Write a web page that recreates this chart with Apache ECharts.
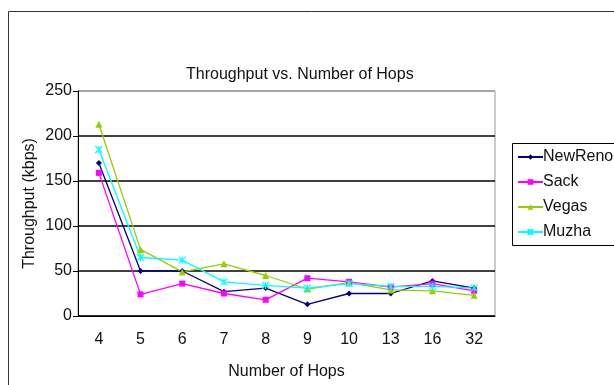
<!DOCTYPE html>
<html>
<head>
<meta charset="utf-8">
<script src="https://cdn.jsdelivr.net/npm/echarts@6/dist/echarts.min.js"></script>
<style>
html,body{margin:0;padding:0;background:#fff;}
#chart{width:614px;height:385px;}
</style>
</head>
<body>
<div id="chart"></div>
<script>
const titleText = 'Throughput vs. Number of Hops';
const xAxisName = 'Number of Hops';
const yAxisName = 'Throughput (kbps)';
const categories = ['4','5','6','7','8','9','10','13','16','32'];
const yTicks = [0, 50, 100, 150, 200, 250];
const seriesNames = ['NewReno','Sack','Vegas','Muzha'];
const newReno = [170, 50, 50, 27, 31, 13, 25, 25, 39, 31];
const sack    = [159, 24, 36, 25, 18, 42, 38, 32, 36, 28];
const vegas   = [213, 74, 49, 58, 45, 30, 37, 29, 28, 23];
const muzha   = [185, 65, 62, 38, 34, 31, 36, 33, 33, 31];

const FONT = '"Liberation Sans", Arial, sans-serif';
const chart = echarts.init(document.getElementById('chart'), null, {renderer:'canvas'});

const colors = ['#000080','#FF00FF','#99CC00','#00FFFF'];
const symbols = ['diamond','rect','triangle','path://M0,0 L10,10 M10,0 L0,10 M5,0 L5,10'];
const sizes = [6,6,7,7];
const datas = [newReno, sack, vegas, muzha];

const series = seriesNames.map((n,i)=>({
  name:n, type:'line', data:datas[i],
  symbol:symbols[i], symbolSize:sizes[i], showAllSymbol:true,
  lineStyle:{color:colors[i], width:1.3},
  itemStyle:{color:colors[i], borderColor:colors[i], borderWidth: i===3?1.2:0},
  emphasis:{disabled:true}, animation:false, z: 3
}));

chart.setOption({
  animation:false,
  backgroundColor:'#fff',
  textStyle:{fontFamily:FONT},
  title:{text:titleText, left:181, top:62,
    textStyle:{fontFamily:FONT, fontSize:16, fontWeight:'normal', color:'#111'}},
  graphic:[
    {type:'rect', shape:{x:8.5, y:11.5, width:700, height:500}, style:{fill:null, stroke:'#333', lineWidth:1}, silent:true},
    {type:'rect', shape:{x:512.5, y:143.5, width:110, height:102}, style:{fill:'#fff', stroke:'#000', lineWidth:1}, silent:true, z:0}
  ],
  legend:{
    orient:'vertical', left:512, top:143, padding:[6,0,6,5],
    itemWidth:25, itemHeight:7, itemGap:9,
    data:seriesNames,
    textStyle:{fontFamily:FONT, fontSize:16, lineHeight:16, color:'#111', padding:[0,0,0,-5]},
    z: 10
  },
  grid:{left:78, right:119, top:91, bottom:69, show:true, borderColor:'#999', borderWidth:1, backgroundColor:'transparent'},
  xAxis:{
    type:'category', data:categories, boundaryGap:true,
    name:xAxisName, nameLocation:'middle', nameGap:48, nameMoveOverlap:false,
    nameTextStyle:{fontFamily:FONT, fontSize:16, color:'#111'},
    axisLine:{lineStyle:{color:'#000', width:1}},
    axisTick:{inside:true, length:4, lineStyle:{color:'#000'}},
    axisLabel:{fontFamily:FONT, fontSize:16, color:'#111', margin:16},
    splitLine:{show:false}
  },
  yAxis:{
    type:'value', min:yTicks[0], max:yTicks[yTicks.length-1], interval:yTicks[1]-yTicks[0],
    name:yAxisName, nameLocation:'middle', nameGap:40, nameRotate:90, nameMoveOverlap:false,
    nameTextStyle:{fontFamily:FONT, fontSize:16, color:'#111'},
    axisLine:{show:true, lineStyle:{color:'#000', width:1}},
    axisTick:{show:true, inside:false, length:5, lineStyle:{color:'#000'}},
    axisLabel:{fontFamily:FONT, fontSize:16, color:'#111', margin:6},
    splitLine:{show:true, lineStyle:{color:['#000','#000','#000','#000','#000','#999'], width:1.5}}
  },
  series: series
});
</script>
</body>
</html>
